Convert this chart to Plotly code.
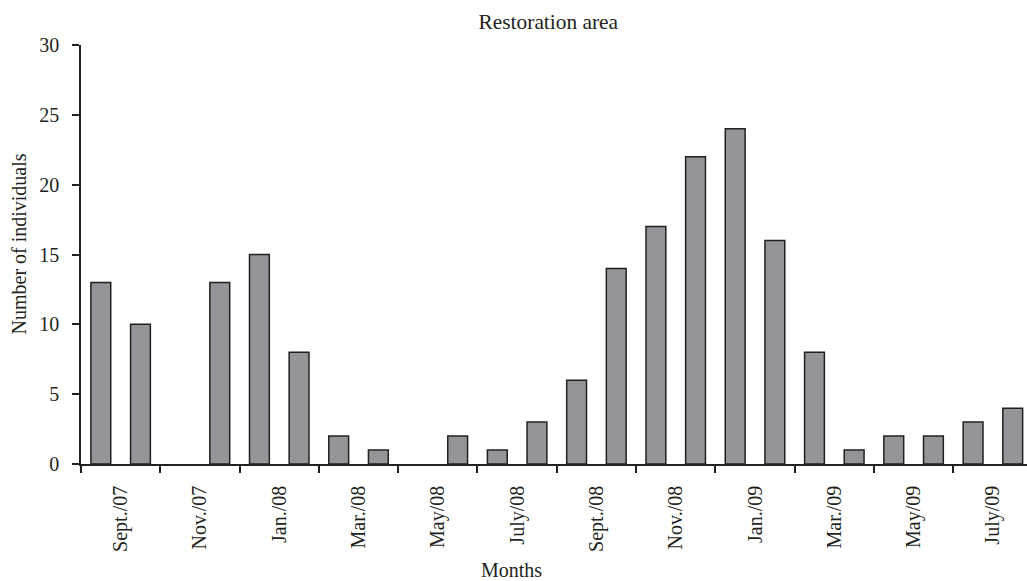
import plotly.graph_objects as go

# Monthly counts, Sept. 2007 – Aug. 2009
months = ["Sep 07", "Oct 07", "Nov 07", "Dec 07", "Jan 08", "Feb 08",
          "Mar 08", "Apr 08", "May 08", "Jun 08", "Jul 08", "Aug 08",
          "Sep 08", "Oct 08", "Nov 08", "Dec 08", "Jan 09", "Feb 09",
          "Mar 09", "Apr 09", "May 09", "Jun 09", "Jul 09", "Aug 09"]
individuals = [13, 10, 0, 13, 15, 8, 2, 1, 0, 2, 1, 3,
               6, 14, 17, 22, 24, 16, 8, 1, 2, 2, 3, 4]
tick_labels = ["Sept./07", "Nov./07", "Jan./08", "Mar./08", "May/08", "July/08",
               "Sept./08", "Nov./08", "Jan./09", "Mar./09", "May/09", "July/09"]
y_ticks = [0, 5, 10, 15, 20, 25, 30]

ink = "#231f20"
font_family = "Liberation Serif, Times New Roman, serif"

x_pos = list(range(len(months)))
label_pos = [i + 0.5 for i in range(0, len(months), 2)]
group_edges = [i - 0.5 for i in range(0, len(months) + 1, 2)]
# empty months get no outline so nothing is drawn for them
outline_widths = [1.5 if v > 0 else 0 for v in individuals]

fig = go.Figure(
    go.Bar(
        x=x_pos,
        y=individuals,
        width=0.5,
        marker=dict(color="#939598", line=dict(color=ink, width=outline_widths)),
        hovertext=months,
    )
)

fig.update_layout(
    width=1027,
    height=581,
    margin=dict(l=81, r=0, t=45, b=117),
    paper_bgcolor="white",
    plot_bgcolor="white",
    showlegend=False,
    font=dict(family=font_family, size=20, color=ink),
    title=dict(
        text="Restoration area",
        x=0.494, xref="paper", xanchor="center",
        y=1 - 22 / 581, yref="container", yanchor="middle",
        font=dict(family=font_family, size=21.4, color=ink),
    ),
    xaxis=dict(
        range=[-0.5, 23.36],
        tickmode="array",
        tickvals=label_pos,
        ticktext=tick_labels,
        tickangle=-90,
        ticks="outside",
        ticklen=12,
        tickcolor="rgba(0,0,0,0)",
        showline=True,
        linecolor=ink,
        linewidth=1.5,
        showgrid=False,
        zeroline=False,
        minor=dict(
            tickmode="array",
            tickvals=group_edges,
            ticks="outside",
            ticklen=7,
            tickwidth=1.5,
            tickcolor=ink,
            showgrid=False,
        ),
    ),
    yaxis=dict(
        range=[0, 30],
        tickmode="array",
        tickvals=y_ticks,
        ticks="outside",
        ticklen=7,
        tickwidth=1.5,
        tickcolor=ink,
        ticklabelstandoff=9,
        showline=True,
        linecolor=ink,
        linewidth=1.5,
        showgrid=False,
        zeroline=False,
    ),
    annotations=[
        dict(
            text="Number of individuals",
            xref="paper", yref="paper",
            x=(18.5 - 81) / 946, y=(464 - 244) / 419,
            xanchor="center", yanchor="middle",
            textangle=-90, showarrow=False,
            font=dict(family=font_family, size=20, color=ink),
        ),
        dict(
            text="Months",
            xref="paper", yref="paper",
            x=(511 - 81) / 946, y=(464 - 570) / 419,
            xanchor="center", yanchor="middle",
            showarrow=False,
            font=dict(family=font_family, size=20, color=ink),
        ),
    ],
)

fig.write_html("out.html")
